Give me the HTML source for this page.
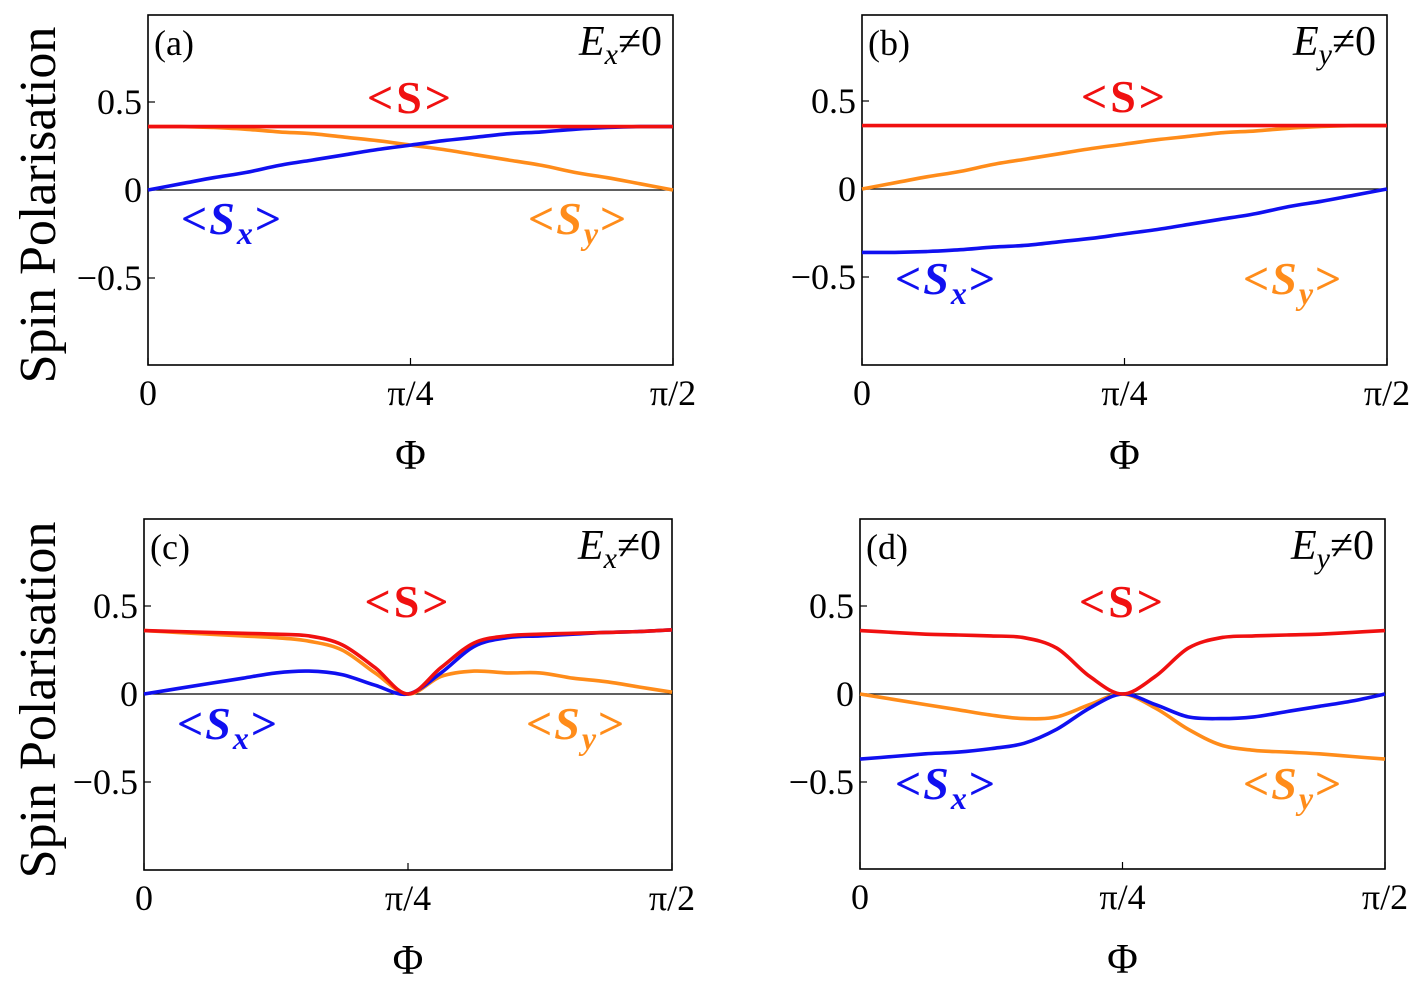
<!DOCTYPE html>
<html><head><meta charset="utf-8"><style>
html,body{margin:0;padding:0;background:#fff;}
svg{display:block;font-family:"Liberation Serif",serif;}
</style></head><body>
<svg id="fig" width="1427" height="992" viewBox="0 0 1427 992"></svg>
<script>
const phiFrac=[0,0.0625,0.125,0.1875,0.25,0.3125,0.375,0.4375,0.5,0.5625,0.625,0.6875,0.75,0.8125,0.875,0.9375,1];
const aS=[0.36,0.36,0.36,0.36,0.36,0.36,0.36,0.36,0.36,0.36,0.36,0.36,0.36,0.36,0.36,0.36,0.36];
const aSx=[0,0.035,0.07,0.1,0.14,0.17,0.2,0.23,0.255,0.28,0.3,0.32,0.33,0.345,0.355,0.36,0.36];
const aSy=[0.36,0.36,0.355,0.345,0.33,0.32,0.3,0.28,0.255,0.23,0.2,0.17,0.14,0.1,0.07,0.035,0];
const bS=[0.36,0.36,0.36,0.36,0.36,0.36,0.36,0.36,0.36,0.36,0.36,0.36,0.36,0.36,0.36,0.36,0.36];
const bSx=[-0.36,-0.36,-0.355,-0.345,-0.33,-0.32,-0.3,-0.28,-0.255,-0.23,-0.2,-0.17,-0.14,-0.1,-0.07,-0.035,0];
const bSy=[0,0.035,0.07,0.1,0.14,0.17,0.2,0.23,0.255,0.28,0.3,0.32,0.33,0.345,0.355,0.36,0.36];
const cS=[0.36,0.355,0.35,0.345,0.34,0.33,0.28,0.15,0,0.15,0.29,0.33,0.34,0.345,0.35,0.355,0.365];
const cSx=[0,0.03,0.06,0.09,0.12,0.13,0.11,0.05,0,0.12,0.27,0.32,0.33,0.34,0.35,0.355,0.365];
const cSy=[0.36,0.35,0.34,0.33,0.32,0.3,0.25,0.12,0,0.1,0.13,0.12,0.12,0.09,0.07,0.04,0.01];
const dS=[0.36,0.35,0.34,0.335,0.33,0.32,0.26,0.1,0,0.1,0.26,0.32,0.33,0.335,0.34,0.35,0.36];
const dSx=[-0.37,-0.355,-0.34,-0.33,-0.31,-0.28,-0.2,-0.08,0,-0.06,-0.13,-0.14,-0.13,-0.1,-0.07,-0.04,0];
const dSy=[0,-0.03,-0.06,-0.09,-0.12,-0.14,-0.13,-0.06,0,-0.08,-0.2,-0.29,-0.32,-0.33,-0.34,-0.355,-0.37];
const yTicks=[0.5,0,-0.5];
const yTickLabels=["0.5","0","\u22120.5"];
const xTicks=[0,0.5,1];
const xTickLabels=["0","\u03c0/4","\u03c0/2"];

const NS="http://www.w3.org/2000/svg";
const svg=document.getElementById('fig');
function el(tag,attrs,parent,text){const e=document.createElementNS(NS,tag);for(const k in attrs)e.setAttribute(k,attrs[k]);if(text!==undefined)e.textContent=text;(parent||svg).appendChild(e);return e;}
function smoothPath(pts){
  let d='M'+pts[0][0].toFixed(1)+','+pts[0][1].toFixed(1);
  for(let i=0;i<pts.length-1;i++){
    const p0=pts[Math.max(0,i-1)],p1=pts[i],p2=pts[i+1],p3=pts[Math.min(pts.length-1,i+2)];
    const c1x=p1[0]+(p2[0]-p0[0])/6,c1y=p1[1]+(p2[1]-p0[1])/6;
    const c2x=p2[0]-(p3[0]-p1[0])/6,c2y=p2[1]-(p3[1]-p1[1])/6;
    d+=' C'+c1x.toFixed(1)+','+c1y.toFixed(1)+' '+c2x.toFixed(1)+','+c2y.toFixed(1)+' '+p2[0].toFixed(1)+','+p2[1].toFixed(1);
  }
  return d;
}

const panels=[
 {id:'a',x0:148,x1:673,y0:15,y1:365,zero:190,S:aS,Sx:aSx,Sy:aSy,field:'x',sxPos:[181,234],syPos:[528,234]},
 {id:'b',x0:862,x1:1387,y0:15,y1:365,zero:189,S:bS,Sx:bSx,Sy:bSy,field:'y',sxPos:[895,294],syPos:[1243,294]},
 {id:'c',x0:144,x1:672,y0:519,y1:870,zero:694,S:cS,Sx:cSx,Sy:cSy,field:'x',sxPos:[177,739],syPos:[526,739]},
 {id:'d',x0:860,x1:1385,y0:519,y1:869,zero:694,S:dS,Sx:dSx,Sy:dSy,field:'y',sxPos:[895,799],syPos:[1243,799]}
];

panels.forEach(p=>{
  const g=el('g',{});
  
  
  const sx=v=>p.x0+v*(p.x1-p.x0);
  const sy=v=>p.zero-v*176;
  const f=el('rect',{x:p.x0,y:p.y0,width:p.x1-p.x0,height:p.y1-p.y0,fill:'none',stroke:'#000','stroke-width':1.6},g);
  
  
  const z=el('line',{x1:p.x0,x2:p.x1,y1:sy(0),y2:sy(0),stroke:'#000','stroke-width':1.3},g);
  
  
  yTicks.forEach((t,i)=>{
    el('line',{x1:p.x0,x2:p.x0+7,y1:sy(t),y2:sy(t),stroke:'#000','stroke-width':1.2},g);
    const tl=el('text',{x:p.x0-6,y:sy(t)+12,'text-anchor':'end','font-size':36},g,yTickLabels[i]);
    
    
  });
  xTicks.forEach((t,i)=>{
    el('line',{x1:sx(t),x2:sx(t),y1:p.y1,y2:p.y1-7,stroke:'#000','stroke-width':1.2},g);
    const tl=el('text',{x:sx(t),y:p.y1+40,'text-anchor':'middle','font-size':36},g,xTickLabels[i]);
    
    
  });
  const xt=el('text',{x:sx(0.5),y:p.y1+104,'text-anchor':'middle','font-size':42},g,'\u03a6');
  
  
  const series=[[p.Sy,'#ff8c1a','sy'],[p.Sx,'#1010f0','sx'],[p.S,'#f01010','s']];
  series.forEach(s=>{
    const pts=s[0].map((v,i)=>[sx(phiFrac[i]),sy(v)]);
    const path=el('path',{d:smoothPath(pts),fill:'none',stroke:s[1],'stroke-width':3.6,'stroke-linejoin':'round'},g);
    
    
  });
  const pl=el('text',{x:p.x0+6,y:p.y0+40,'font-size':36},g,'('+p.id+')');
  
  
  const ft=el('text',{x:p.x1-11,y:p.y0+40,'text-anchor':'end','font-size':42},g);
  
  
  el('tspan',{'font-style':'italic'},ft,'E');
  el('tspan',{'font-style':'italic','font-size':30,dy:9},ft,p.field);
  el('tspan',{dy:-9},ft,'\u22600');
  const sl=el('text',{x:sx(0.5),y:p.zero-77,'text-anchor':'middle','font-size':46,'font-weight':'bold','letter-spacing':3,fill:'#f01010'},g,'<S>');
  
  
  [[p.sxPos,'#1010f0','x','legend-sx'],[p.syPos,'#ff8c1a','y','legend-sy']].forEach(q=>{
    const t=el('text',{x:q[0][0],y:q[0][1],'font-size':46,'font-weight':'bold','letter-spacing':2,fill:q[1]},g);
    
    
    el('tspan',{},t,'<');
    el('tspan',{'font-style':'italic'},t,'S');
    el('tspan',{'font-style':'italic','font-size':32,dy:10},t,q[2]);
    el('tspan',{dy:-10},t,'>');
  });
});
[205,700].forEach(cy=>{
  const t=el('text',{x:0,y:0,'text-anchor':'middle','font-size':52,transform:'translate(55,'+cy+') rotate(-90)'});
  t.textContent='Spin Polarisation';
  
  
});
</script>
</body></html>
